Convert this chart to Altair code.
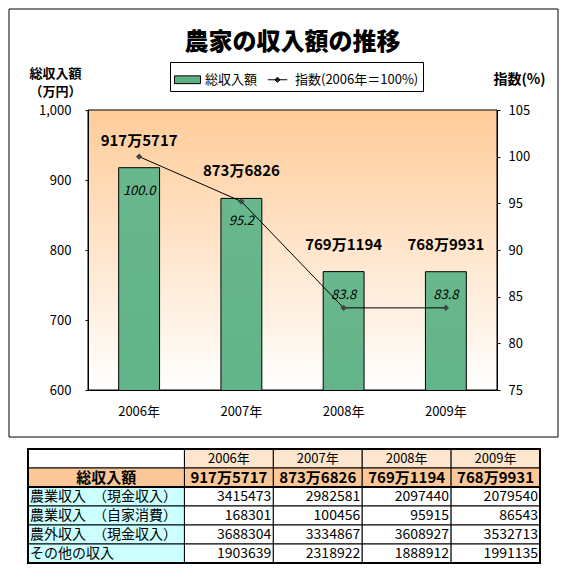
import altair as alt
import pandas as pd

FONT = "Noto Sans CJK JP"

# ---- data ----
years = ["2006年", "2007年", "2008年", "2009年"]
total_yen = [9175717, 8736826, 7691194, 7689931]
index_pct = [100.0, 95.2, 83.8, 83.8]

series_names = ["総収入額", "指数(2006年＝100%)"]

table_total_title = "総収入額"
table_row_labels = ["農業収入　（現金収入）", "農業収入　（自家消費）", "農外収入　（現金収入）", "その他の収入"]
farm_cash = [3415473, 2982581, 2097440, 2079540]
farm_self = [168301, 100456, 95915, 86543]
nonfarm_cash = [3688304, 3334867, 3608927, 3532713]
other_income = [1903639, 2318922, 1888912, 1991135]


def man_label(v):
    return f"{v // 10000}万{v % 10000}"


main_df = pd.DataFrame({"year": years, "total": total_yen, "index": index_pct})
main_df["man"] = main_df["total"] / 10000
main_df["label"] = [man_label(v) for v in total_yen]
main_df["idx_label"] = [f"{v:.1f}" for v in index_pct]

rows_text = [[""] + years, [table_total_title] + [man_label(v) for v in total_yen]]
for lab, vals in zip(table_row_labels, [farm_cash, farm_self, nonfarm_cash, other_income]):
    rows_text.append([lab] + [str(v) for v in vals])
cells = []
for r, row in enumerate(rows_text):
    for c, t in enumerate(row):
        cells.append({"row": r, "col": c, "text": t})
table_df = pd.DataFrame(cells)

# ---- styles ----
bar_grad = alt.Gradient(
    gradient="linear", x1=0, x2=0, y1=0, y2=1,
    stops=[alt.GradientStop(color="#68B78D", offset=0),
           alt.GradientStop(color="#62B388", offset=0.35),
           alt.GradientStop(color="#409C6C", offset=0.6),
           alt.GradientStop(color="#3D996A", offset=1)])
bg_grad = alt.Gradient(
    gradient="linear", x1=0, x2=0, y1=0, y2=1,
    stops=[alt.GradientStop(color="#FFCC99", offset=0),
           alt.GradientStop(color="#FFFFFF", offset=1)])

one_row = alt.Data(values=[{}])

# outer frame and plot background (with plot border)
frame = alt.Chart(one_row).mark_rect(fill="white", stroke="black", strokeWidth=1).encode(
    x=alt.value(-79), x2=alt.value(470), y=alt.value(-101), y2=alt.value(327))
bg = alt.Chart(one_row).mark_rect(fill=bg_grad, stroke="black", strokeWidth=1).encode(
    x=alt.value(0), x2=alt.value("width"), y=alt.value(0), y2=alt.value("height"))

xenc = alt.X("year:N", sort=years,
             scale=alt.Scale(paddingInner=0.6, paddingOuter=0.3),
             axis=alt.Axis(title=None, labelAngle=0, ticks=False, labelPadding=15,
                           labelFontSize=13, labelColor="black", domainColor="black",
                           labelFont=FONT, zindex=1))

yleft = alt.Y("man:Q", scale=alt.Scale(domain=[600, 1000], nice=False, zero=False),
              axis=alt.Axis(values=[600, 700, 800, 900, 1000], format=",d", grid=False,
                            tickSize=3, tickColor="black", domainColor="black",
                            labelPadding=14, labelFontSize=13, labelColor="black",
                            labelFont=FONT, zindex=1,
                            title=["総収入額", "（万円）"], titleAngle=0, titleX=-33, titleY=-33,
                            titleAlign="center", titleBaseline="alphabetic",
                            titleFontSize=13, titleFontWeight="bold", titleLineHeight=18,
                            titleColor="black", titleFont=FONT))

yright = alt.Y("index:Q", scale=alt.Scale(domain=[75, 105], nice=False, zero=False),
               axis=alt.Axis(orient="right", values=[75, 80, 85, 90, 95, 100, 105], grid=False,
                             tickSize=3, tickColor="black", domainColor="black",
                             labelPadding=8, labelFontSize=13, labelColor="black",
                             labelFont=FONT, zindex=1,
                             title="指数(%)", titleAngle=0, titleX=22, titleY=-27,
                             titleAlign="center", titleBaseline="alphabetic",
                             titleFontSize=14, titleFontWeight="bold",
                             titleColor="black", titleFont=FONT))

base_main = alt.Chart(main_df)
bars = base_main.mark_bar(fill=bar_grad, stroke="black", strokeWidth=1, clip=True).encode(
    x=xenc, y=yleft)
bar_labels = base_main.mark_text(dy=-27, fontSize=15, fontWeight="bold", color="black",
                                 font=FONT).encode(x=xenc, y=yleft, text="label:N")
idx_labels = base_main.mark_text(dy=23, fontSize=13, fontStyle="italic", color="black",
                                 font=FONT).encode(x=xenc, y=yleft, text="idx_label:N")
line = base_main.mark_line(color="black", strokeWidth=1).encode(x=xenc, y=yright)
pts = base_main.mark_point(shape="diamond", filled=True, fill="#454545", size=40,
                           opacity=1).encode(x=xenc, y=yright)

main = alt.layer(alt.layer(bars, bar_labels, idx_labels),
                 alt.layer(line, pts)).resolve_scale(y="independent")

# ---- table ----
tx = alt.Scale(domain=[0, 5.76], range=[-60, 452], nice=False, zero=False)
ty = alt.Scale(domain=[0, 6], range=[339, 453], nice=False, zero=False)

tbase = alt.Chart(table_df).transform_calculate(
    x0="datum.col == 0 ? 0 : 1.76 + datum.col - 1",
    x1="datum.col == 0 ? 1.76 : 1.76 + datum.col",
    y0="datum.row",
    y1="datum.row + 1",
    ym="datum.row + 0.5",
    fillc="datum.row == 0 ? (datum.col == 0 ? '#FFFFFF' : '#FDE6CE') : "
          "(datum.row == 1 ? '#FAC898' : (datum.col == 0 ? '#CCFFFF' : '#FFFFFF'))",
).transform_calculate(xm="(datum.x0 + datum.x1) / 2")

cell_rect = tbase.mark_rect(stroke="black", strokeWidth=1).encode(
    x=alt.X("x0:Q", scale=tx, axis=None), x2="x1:Q",
    y=alt.Y("y0:Q", scale=ty, axis=None), y2="y1:Q",
    fill=alt.Fill("fillc:N", scale=None))
hdr_text = tbase.transform_filter("datum.row == 0").mark_text(
    fontSize=13, align="center", baseline="middle", color="black", font=FONT).encode(
    x=alt.X("xm:Q", scale=tx, axis=None), y=alt.Y("ym:Q", scale=ty, axis=None), text="text:N")
tot_text = tbase.transform_filter("datum.row == 1").mark_text(
    fontSize=15, fontWeight="bold", align="center", baseline="middle", color="black",
    font=FONT).encode(
    x=alt.X("xm:Q", scale=tx, axis=None), y=alt.Y("ym:Q", scale=ty, axis=None), text="text:N")
lab_text = tbase.transform_filter("datum.row >= 2 && datum.col == 0").mark_text(
    fontSize=14, align="left", baseline="middle", dx=2, color="black", font=FONT).encode(
    x=alt.X("x0:Q", scale=tx, axis=None), y=alt.Y("ym:Q", scale=ty, axis=None), text="text:N")
val_text = tbase.transform_filter("datum.row >= 2 && datum.col > 0").mark_text(
    fontSize=14, align="right", baseline="middle", dx=-2, color="black", font=FONT).encode(
    x=alt.X("x1:Q", scale=tx, axis=None), y=alt.Y("ym:Q", scale=ty, axis=None), text="text:N")
border = tbase.mark_rect(fillOpacity=0, stroke="black", strokeWidth=2).encode(
    x=alt.X("min(x0):Q", scale=tx, axis=None), x2="max(x1):Q",
    y=alt.Y("min(y0):Q", scale=ty, axis=None), y2="max(y1):Q")
sep = tbase.transform_filter("datum.row == 1").mark_rule(color="black", strokeWidth=2).encode(
    x=alt.X("min(x0):Q", scale=tx, axis=None), x2="max(x1):Q",
    y=alt.Y("max(y1):Q", scale=ty, axis=None))

table = alt.layer(cell_rect, hdr_text, tot_text, lab_text, val_text, border, sep)

# ---- legend ----
rect_path = "M-1,-0.3H1V0.3H-1Z"
line_path = "M-0.75,0H0.75M-0.2,0L0,-0.2L0.2,0L0,0.2Z"
leg = alt.Legend(orient="none", legendX=82, legendY=-48, direction="horizontal", title=None,
                 labelFontSize=13, labelFont=FONT, labelColor="black", labelOffset=4,
                 symbolSize=676, symbolStrokeWidth=1, padding=4, columnPadding=6,
                 strokeColor="black", fillColor="white")
legend_layer = alt.Chart(pd.DataFrame({"series": series_names})).transform_filter(
    "false").mark_point(size=676, opacity=1).encode(
    fill=alt.Fill("series:N", scale=alt.Scale(domain=series_names, range=["#5FB085", "#404040"]),
                  legend=leg),
    stroke=alt.Stroke("series:N", scale=alt.Scale(domain=series_names, range=["black", "black"]),
                      legend=leg),
    shape=alt.Shape("series:N", scale=alt.Scale(domain=series_names, range=[rect_path, line_path]),
                    legend=leg))

chart = alt.layer(frame, bg, main, table, legend_layer).resolve_scale(
    x="independent", y="independent"
).properties(
    width=409, height=280,
    padding={"left": 80, "top": 102, "right": 65, "bottom": 180},
    autosize=alt.AutoSizeParams(type="none"),
    title=alt.TitleParams("農家の収入額の推移", fontSize=24, fontWeight=900, font=FONT,
                          color="black", anchor="middle", dy=50),
).configure_view(stroke=None).configure(background="white", font=FONT)

chart.save("out.html", embed_options={"renderer": "svg", "actions": False})
